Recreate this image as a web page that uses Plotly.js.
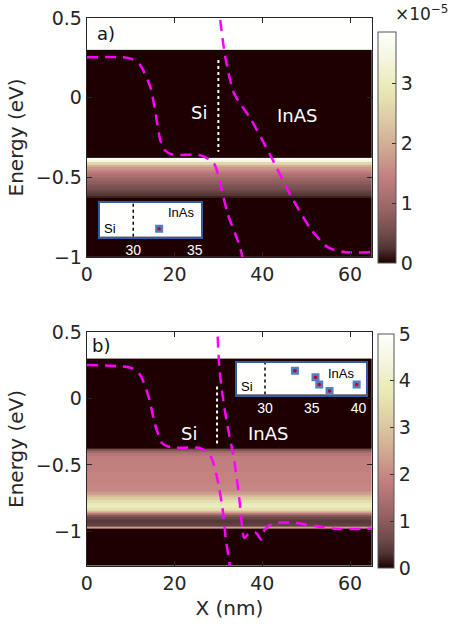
<!DOCTYPE html>
<html>
<head>
<meta charset="utf-8">
<script src="https://cdn.plot.ly/plotly-3.0.1.min.js"></script>
<style>html,body{margin:0;padding:0;background:#fff;}#plot{width:449px;height:627px;}</style>
</head>
<body>
<div id="plot"></div>
<script>
// ---------- data ----------
// heatmap x edges (nm)
var xEdges = [0, 65];
// panel a) spectral density profile: energy bin edges (eV) and values (x1e-5)
var aEdges = [-1, -0.63, -0.615, -0.6, -0.585, -0.57, -0.555, -0.54, -0.525, -0.51, -0.495, -0.48, -0.465, -0.45, -0.435, -0.42, -0.405, -0.39, -0.38, -0.375, 0.3];
var aValues = [0, 0.15, 0.3, 0.4, 0.5, 0.6, 0.7, 0.8, 0.9, 1.0, 1.15, 1.3, 1.5, 1.7, 2.0, 2.6, 3.5, 3.8, 2.5, 0];
// panel b)
var bEdges = [-1.26, -0.975, -0.962, -0.94, -0.91, -0.89, -0.87, -0.855, -0.84, -0.82, -0.80, -0.78, -0.76, -0.74, -0.72, -0.70, -0.65, -0.55, -0.47, -0.43, -0.41, -0.395, -0.38, 0.3];
var bValues = [0, 2.3, 0.5, 0.4, 0.6, 1.0, 1.8, 2.8, 3.6, 3.9, 3.8, 3.5, 3.1, 2.7, 2.3, 2.0, 1.9, 1.85, 1.8, 1.6, 1.2, 0.7, 0];

// band edge curves, panel a)
var a1x = [0, 8.4, 10.5, 12.2, 14.5, 15.7, 16.8, 17.8, 19.5, 26, 29, 30.6, 32.1, 34.4, 35.5, 36];
var a1y = [0.253, 0.253, 0.24, 0.204, 0.068, -0.10, -0.27, -0.33, -0.357, -0.362, -0.414, -0.56, -0.727, -0.896, -1.0, -1.1];
var a2x = [30.2, 30.4, 31, 31.7, 33.6, 37.5, 42, 46.6, 51.2, 55, 58.9, 65];
var a2y = [0.6, 0.5, 0.36, 0.236, 0.026, -0.14, -0.37, -0.62, -0.83, -0.94, -0.97, -0.97];
// panel b)
var b1x = [0, 8.4, 10.5, 12.2, 14.1, 15.7, 17.2, 18.5, 20.6, 26, 28.3, 29.8, 31, 31.7, 32.5, 32.7];
var b1y = [0.252, 0.24, 0.225, 0.177, 0.013, -0.21, -0.337, -0.36, -0.37, -0.375, -0.438, -0.61, -0.84, -1.06, -1.23, -1.3];
var b2x = [29.7, 29.8, 30.2, 31, 32.1, 33.6, 34.8, 35.5, 35.9, 37.1, 38.6, 39.7, 40.5, 42.4, 47.4, 52, 56.6, 65];
var b2y = [0.6, 0.5, 0.24, 0.013, -0.21, -0.462, -0.763, -0.99, -1.05, -1.01, -1.01, -1.06, -0.99, -0.94, -0.935, -0.96, -0.98, -0.98];

// interface markers (dotted lines)
var aIfx = [30, 30], aIfy = [0.236, -0.34];
var bIfx = [29.7, 29.7], bIfy = [0.09, -0.36];

// insets: atom positions
var insAx = [32.1], insAy = [0.235];
var insBx = [33.2, 35.4, 35.8, 36.9, 39.8], insBy = [0.75, 0.55, 0.32, 0.11, 0.32];

var tickX = [0, 20, 40, 60];
var tickY = [-1, -0.5, 0, 0.5];
var cbTicksA = [0, 1, 2, 3];
var cbTicksB = [0, 1, 2, 3, 4, 5];

// ---------- style ----------
var FONT = 'DejaVu Sans, sans-serif';
var IFONT = 'Liberation Sans, Arial, sans-serif';
var pink = [
  [0, 'rgb(30,0,0)'], [0.0625, 'rgb(79,52,52)'], [0.125, 'rgb(112,74,74)'],
  [0.25, 'rgb(159,104,104)'], [0.375, 'rgb(195,128,128)'], [0.5, 'rgb(208,170,147)'],
  [0.625, 'rgb(221,204,165)'], [0.75, 'rgb(233,233,180)'], [0.875, 'rgb(244,244,221)'],
  [1, 'rgb(255,255,255)']
];
function col(v) { return v.map(function (d) { return [d]; }); }
var dashLine = {color: '#ff00ff', width: 2.5, dash: '11px,7px', shape: 'spline', smoothing: 0.7};

var traces = [
  {type: 'heatmap', x: xEdges, y: aEdges, z: col(aValues), xaxis: 'x', yaxis: 'y',
   colorscale: pink, zmin: 0, zmax: 3.85, hoverinfo: 'skip',
   colorbar: {x: 0.841, xanchor: 'left', xpad: 0, ypad: 0, y: 0.7647, yanchor: 'middle',
     len: 0.368, thickness: 18, tickvals: cbTicksA, ticks: 'inside', ticklen: 4,
     tickcolor: '#333', outlinecolor: '#555', outlinewidth: 1,
     tickfont: {family: FONT, size: 19, color: '#262626'}}},
  {type: 'scatter', mode: 'lines', x: a1x, y: a1y, xaxis: 'x', yaxis: 'y', line: dashLine, hoverinfo: 'skip'},
  {type: 'scatter', mode: 'lines', x: a2x, y: a2y, xaxis: 'x', yaxis: 'y', line: dashLine, hoverinfo: 'skip'},
  {type: 'scatter', mode: 'lines', x: aIfx, y: aIfy, xaxis: 'x', yaxis: 'y', line: {color: '#fff', width: 2, dash: 'dot'}, hoverinfo: 'skip'},

  {type: 'heatmap', x: xEdges, y: bEdges, z: col(bValues), xaxis: 'x2', yaxis: 'y2',
   colorscale: pink, zmin: 0, zmax: 5, hoverinfo: 'skip',
   colorbar: {x: 0.842, xanchor: 'left', xpad: 0, ypad: 0, y: 0.2807, yanchor: 'middle',
     len: 0.373, thickness: 16, tickvals: cbTicksB, ticks: 'inside', ticklen: 4,
     tickcolor: '#333', outlinecolor: '#555', outlinewidth: 1,
     tickfont: {family: FONT, size: 19, color: '#262626'}}},
  {type: 'scatter', mode: 'lines', x: b1x, y: b1y, xaxis: 'x2', yaxis: 'y2', line: dashLine, hoverinfo: 'skip'},
  {type: 'scatter', mode: 'lines', x: b2x, y: b2y, xaxis: 'x2', yaxis: 'y2', line: dashLine, hoverinfo: 'skip'},
  {type: 'scatter', mode: 'lines', x: bIfx, y: bIfy, xaxis: 'x2', yaxis: 'y2', line: {color: '#fff', width: 2, dash: 'dot'}, hoverinfo: 'skip'},

  // inset a
  {type: 'scatter', mode: 'lines', x: [30, 30], y: [0, 1], xaxis: 'x3', yaxis: 'y3', line: {color: '#000', width: 1.5, dash: 'dot'}, hoverinfo: 'skip'},
  {type: 'scatter', mode: 'markers', x: insAx, y: insAy, xaxis: 'x3', yaxis: 'y3', marker: {symbol: 'square', size: 8, color: '#4f7fc4'}, hoverinfo: 'skip'},
  {type: 'scatter', mode: 'markers', x: insAx, y: insAy, xaxis: 'x3', yaxis: 'y3', marker: {symbol: 'circle', size: 3.5, color: '#c0001a'}, hoverinfo: 'skip'},
  // inset b
  {type: 'scatter', mode: 'lines', x: [30, 30], y: [0, 1], xaxis: 'x4', yaxis: 'y4', line: {color: '#000', width: 1.5, dash: 'dot'}, hoverinfo: 'skip'},
  {type: 'scatter', mode: 'markers', x: insBx, y: insBy, xaxis: 'x4', yaxis: 'y4', marker: {symbol: 'square', size: 8, color: '#4f7fc4'}, hoverinfo: 'skip'},
  {type: 'scatter', mode: 'markers', x: insBx, y: insBy, xaxis: 'x4', yaxis: 'y4', marker: {symbol: 'circle', size: 3.5, color: '#c0001a'}, hoverinfo: 'skip'}
];

function mainAx(extra) {
  var o = {showgrid: false, zeroline: false, showline: true, mirror: 'allticks', linecolor: '#262626',
    linewidth: 1, ticks: 'inside', ticklen: 5, tickcolor: '#262626',
    tickfont: {family: FONT, size: 19, color: '#262626'}};
  for (var k in extra) o[k] = extra[k];
  return o;
}
function insetAx(extra) {
  var o = {showgrid: false, zeroline: false, showline: true, mirror: true, linecolor: '#2f5da8',
    linewidth: 2, ticks: '', tickfont: {family: IFONT, size: 14, color: '#fff'}};
  for (var k in extra) o[k] = extra[k];
  return o;
}
var titleFont = {family: FONT, size: 20, color: '#262626'};

var layout = {
  width: 449, height: 627, margin: {l: 0, r: 0, t: 0, b: 0},
  paper_bgcolor: '#ffffff', plot_bgcolor: '#fffffe', showlegend: false,
  xaxis: mainAx({domain: [0.1931, 0.8285], anchor: 'y', range: [0, 65], tickvals: tickX}),
  yaxis: mainAx({domain: [0.5901, 0.9713], anchor: 'x', range: [-1, 0.5], tickvals: tickY,
    title: {text: 'Energy (eV)', font: titleFont, standoff: 6}}),
  xaxis2: mainAx({domain: [0.1931, 0.8285], anchor: 'y2', range: [0, 65], tickvals: tickX,
    title: {text: 'X (nm)', font: titleFont, standoff: 8}}),
  yaxis2: mainAx({domain: [0.0973, 0.4705], anchor: 'x2', range: [-1.26, 0.5], tickvals: tickY,
    title: {text: 'Energy (eV)', font: titleFont, standoff: 6}}),
  xaxis3: insetAx({domain: [0.2227, 0.4477], anchor: 'y3', range: [27.3, 35.5], tickvals: [30, 35]}),
  yaxis3: insetAx({domain: [0.6225, 0.6767], anchor: 'x3', range: [0, 1], showticklabels: false}),
  xaxis4: insetAx({domain: [0.5278, 0.8151], anchor: 'y4', range: [27, 40.8], tickvals: [30, 35, 40]}),
  yaxis4: insetAx({domain: [0.3708, 0.4211], anchor: 'x4', range: [0, 1], showticklabels: false}),
  annotations: [
    {xref: 'x', yref: 'y', x: 4.5, y: 0.4025, text: 'a)', showarrow: false, font: {family: FONT, size: 18, color: '#111'}},
    {xref: 'x', yref: 'y', x: 25.6, y: -0.09, text: 'Si', showarrow: false, font: {family: FONT, size: 18, color: '#fff'}},
    {xref: 'x', yref: 'y', x: 48.0, y: -0.11, text: 'InAS', showarrow: false, font: {family: FONT, size: 18, color: '#fff'}},
    {xref: 'x2', yref: 'y2', x: 3.3, y: 0.396, text: 'b)', showarrow: false, font: {family: FONT, size: 18, color: '#111'}},
    {xref: 'x2', yref: 'y2', x: 23.4, y: -0.263, text: 'Si', showarrow: false, font: {family: FONT, size: 18, color: '#fff'}},
    {xref: 'x2', yref: 'y2', x: 41.3, y: -0.263, text: 'InAS', showarrow: false, font: {family: FONT, size: 18, color: '#fff'}},
    {xref: 'x3', yref: 'y3', x: 27.5, y: 0.23, xanchor: 'left', text: 'Si', showarrow: false, font: {family: IFONT, size: 13, color: '#000'}},
    {xref: 'x3', yref: 'y3', x: 35.14, y: 0.7, xanchor: 'right', text: 'InAs', showarrow: false, font: {family: IFONT, size: 13, color: '#000'}},
    {xref: 'x4', yref: 'y4', x: 27.2, y: 0.24, xanchor: 'left', text: 'Si', showarrow: false, font: {family: IFONT, size: 13, color: '#000'}},
    {xref: 'x4', yref: 'y4', x: 39.8, y: 0.68, xanchor: 'right', text: 'InAs', showarrow: false, font: {family: IFONT, size: 13, color: '#000'}},
    {xref: 'paper', yref: 'paper', x: 0.875, y: 1.0, xanchor: 'left', yanchor: 'top', text: '×10<sup>−5</sup>', showarrow: false, font: {family: FONT, size: 17, color: '#262626'}}
  ]
};

Plotly.newPlot('plot', traces, layout, {staticPlot: true, displayModeBar: false});
</script>
</body>
</html>
